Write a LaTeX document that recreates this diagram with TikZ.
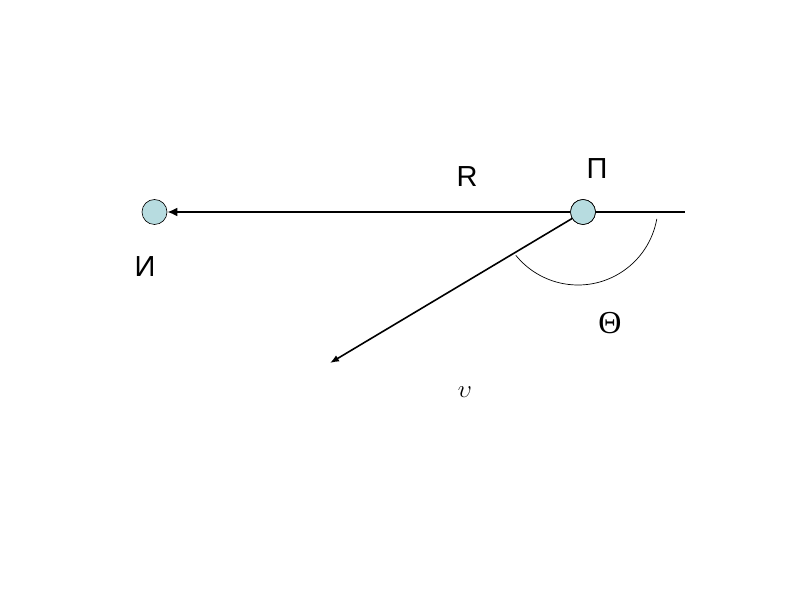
\documentclass[tikz,border=0pt]{standalone}
\usepackage{fontspec}
\setmainfont{Liberation Sans}
\newfontfamily\serifgr{Liberation Serif}
\usetikzlibrary{arrows.meta,calc}
\definecolor{ballfill}{RGB}{183,220,224}
\tikzset{
  ball/.style={circle, draw=black, line width=0.6pt, fill=ballfill, minimum size=25pt, inner sep=0pt},
  lbl/.style={font=\fontsize{29}{30}\selectfont, inner sep=0pt},
  grlbl/.style={font=\serifgr\fontsize{32}{32}\selectfont, inner sep=0pt},
  thickline/.style={line width=1.9pt},
  arcline/.style={line width=0.7pt}
}
\begin{document}
\begin{tikzpicture}[x=1pt,y=1pt]
\useasboundingbox (0,0) rectangle (800,600);
\fill[white] (0,0) rectangle (800,600);
\coordinate (E) at (685,388);
\coordinate (V) at (330,237);
\coordinate (O) at (578,395);
\node[ball] (I) at (154.5,388) {};
\node[ball] (P) at (583,388) {};
\draw[thickline] (P.east) -- (E);
\draw[thickline, -{Latex[length=10pt,width=9pt]}] (P.west) -- (I.east);
\draw[line width=1.6pt, -{Latex[length=9pt,width=7pt]}] (P) -- (V);
\fill[ballfill] (P) circle (12.2pt);
\draw[line width=0.6pt] (P) circle (12.5pt);
\draw[arcline] ($(O)+(-10:80)$) arc[start angle=-10, end angle=-141, radius=80];
\node[lbl] (Rl) at (467,423) {R};
\node[lbl] (Pl) at (597,431) {П};
\node[lbl] (Il) at (145,333) {И};
\node[grlbl] (Th) at (610,277) {Θ};
\node[font=\fontsize{46}{46}\selectfont, inner sep=0pt] (U) at (465,208) {$\upsilon$};
\end{tikzpicture}
\end{document}
